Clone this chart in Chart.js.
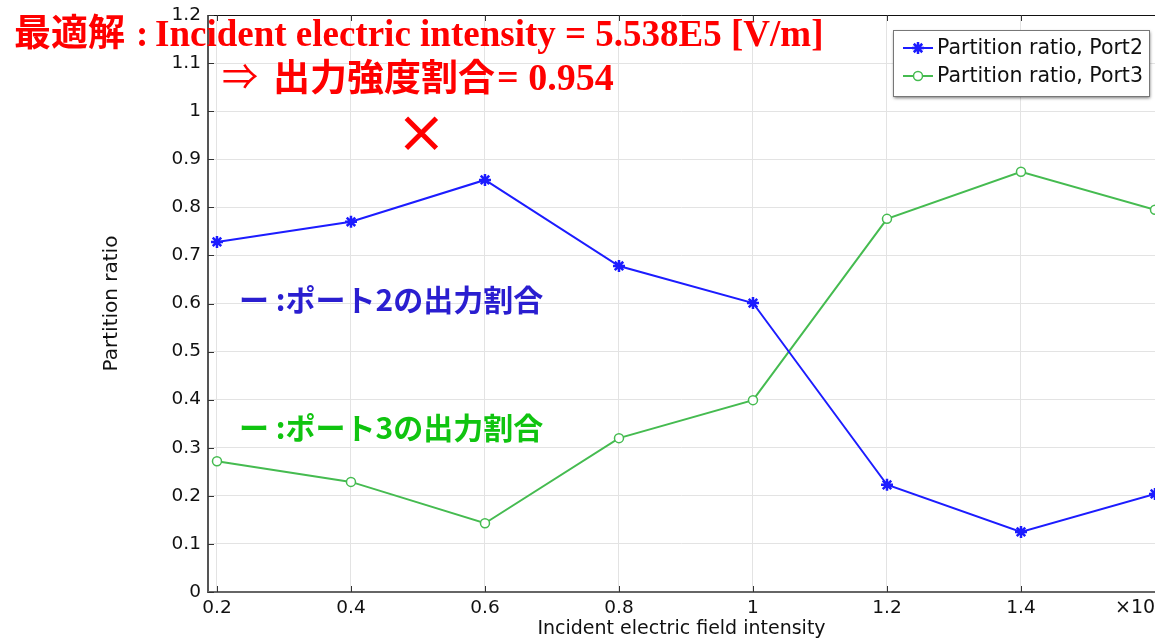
<!DOCTYPE html>
<html>
<head>
<meta charset="utf-8">
<script src="https://cdn.jsdelivr.net/npm/chart.js@4.4.1/dist/chart.umd.min.js"></script>
<style>
  html, body { margin: 0; padding: 0; background: #fff; overflow: hidden; }
  #wrap { width: 1155px; height: 640px; position: relative; }
</style>
</head>
<body>
<div id="wrap"><canvas id="c" width="1155" height="640"></canvas></div>
<script>
// Incident electric field intensity (axis units) and port partition ratios
const fieldIntensity = [0.2, 0.4, 0.6, 0.8, 1.0, 1.2, 1.4, 1.6];
const port2Ratio = [0.728, 0.770, 0.857, 0.678, 0.601, 0.223, 0.125, 0.204];
const port3Ratio = [0.272, 0.229, 0.143, 0.320, 0.399, 0.776, 0.874, 0.795];
const seriesNames = ['Partition ratio, Port2', 'Partition ratio, Port3'];

const xTickValues = [0.2, 0.4, 0.6, 0.8, 1.0, 1.2, 1.4];
const xTickLabels = ['0.2', '0.4', '0.6', '0.8', '1', '1.2', '1.4'];
const yTickValues = [0, 0.1, 0.2, 0.3, 0.4, 0.5, 0.6, 0.7, 0.8, 0.9, 1.0, 1.1, 1.2];
const yTickLabels = ['0', '0.1', '0.2', '0.3', '0.4', '0.5', '0.6', '0.7', '0.8', '0.9', '1', '1.1', '1.2'];

// Optimum: best output ratio and where it is marked
const optimumField = 0.505;
const optimumRatio = 0.954;

const BLUE = '#1c1cff';
const GREEN = '#45bb50';
const AXIS_FONT = "'DejaVu Sans', sans-serif";

const frame = {
  id: 'frame',
  beforeDatasetsDraw(chart) {
    const { ctx, chartArea: a, scales: { x, y } } = chart;
    ctx.save();
    // plot border
    ctx.strokeStyle = '#111';
    ctx.lineWidth = 1;
    ctx.beginPath(); ctx.moveTo(a.left, a.top + 0.5); ctx.lineTo(a.right, a.top + 0.5); ctx.stroke();
    ctx.strokeStyle = '#555';
    ctx.lineWidth = 2;
    ctx.beginPath(); ctx.moveTo(a.left, a.top); ctx.lineTo(a.left, a.bottom + 1); ctx.stroke();
    ctx.strokeStyle = '#666';
    ctx.beginPath(); ctx.moveTo(a.left, a.bottom); ctx.lineTo(a.right, a.bottom); ctx.stroke();
    // inward tick marks
    ctx.strokeStyle = '#333';
    ctx.lineWidth = 1;
    xTickValues.forEach(v => {
      const px = Math.round(x.getPixelForValue(v)) + 0.5;
      ctx.beginPath(); ctx.moveTo(px, a.bottom); ctx.lineTo(px, a.bottom - 6); ctx.stroke();
      ctx.beginPath(); ctx.moveTo(px, a.top); ctx.lineTo(px, a.top + 6); ctx.stroke();
    });
    yTickValues.forEach(v => {
      const py = Math.round(y.getPixelForValue(v)) + 0.5;
      ctx.beginPath(); ctx.moveTo(a.left, py); ctx.lineTo(a.left + 6, py); ctx.stroke();
    });
    ctx.restore();
  },
  afterDraw(chart) {
    const { ctx, scales: { x, y } } = chart;
    ctx.save();

    // axis multiplier
    ctx.fillStyle = '#111';
    ctx.font = "19px " + AXIS_FONT;
    ctx.textBaseline = 'middle';
    ctx.textAlign = 'left';
    ctx.fillText('×10', 1115, 608);

    // legend
    const lx = 893, ly = 30, lw = 256, lh = 66;
    ctx.save();
    ctx.shadowColor = 'rgba(0,0,0,0.55)';
    ctx.shadowBlur = 3;
    ctx.shadowOffsetX = 1;
    ctx.shadowOffsetY = 2;
    ctx.fillStyle = '#fff';
    ctx.fillRect(lx, ly, lw, lh);
    ctx.restore();
    ctx.strokeStyle = '#777';
    ctx.lineWidth = 1;
    ctx.strokeRect(lx + 0.5, ly + 0.5, lw, lh);
    chart.data.datasets.forEach((ds, i) => {
      const cy = ly + 18 + i * 28;
      ctx.strokeStyle = ds.borderColor;
      ctx.lineWidth = 2;
      ctx.beginPath(); ctx.moveTo(lx + 10, cy); ctx.lineTo(lx + 40, cy); ctx.stroke();
      ctx.fillStyle = ds.pointBackgroundColor || ds.borderColor;
      ctx.lineWidth = ds.pointBorderWidth;
      Chart.helpers.drawPoint(ctx, { pointStyle: ds.pointStyle, radius: ds.pointRadius, rotation: 0, borderWidth: ds.pointBorderWidth }, lx + 25, cy);
      ctx.fillStyle = '#111';
      ctx.font = "20.5px " + AXIS_FONT;
      ctx.textBaseline = 'middle';
      ctx.fillText(ds.label, lx + 44, cy + 1);
    });

    // optimum marker
    const ox = x.getPixelForValue(optimumField);
    const oy = y.getPixelForValue(optimumRatio);
    ctx.strokeStyle = '#ff0000';
    ctx.lineWidth = 5;
    ctx.beginPath();
    ctx.moveTo(ox - 15, oy - 15); ctx.lineTo(ox + 15, oy + 15);
    ctx.moveTo(ox + 15, oy - 15); ctx.lineTo(ox - 15, oy + 15);
    ctx.stroke();

    // headline
    ctx.fillStyle = '#ff0000';
    ctx.textBaseline = 'alphabetic';
    ctx.font = "bold 37px 'Noto Sans CJK JP', sans-serif";
    ctx.fillText('最適解', 14, 46);
    ctx.font = "bold 37px 'Liberation Serif', serif";
    ctx.fillText(':', 136, 46);
    ctx.fillText('Incident electric intensity = 5.538E5 [V/m]', 155, 46);
    ctx.font = "36px 'Noto Sans CJK JP', sans-serif";
    ctx.fillText('⇒', 222, 90);
    ctx.font = "bold 37px 'Noto Sans CJK JP', sans-serif";
    ctx.fillText('出力強度割合', 273, 91);
    ctx.font = "bold 38px 'Liberation Serif', serif";
    ctx.fillText('= ' + optimumRatio.toFixed(3), 497, 90);

    // series notes
    ctx.font = "bold 30px 'Noto Sans CJK JP', sans-serif";
    ctx.textBaseline = 'middle';
    ctx.fillStyle = '#2a1ed0';
    ctx.fillText('ー :ポート2の出力割合', 239, 300);
    ctx.fillStyle = '#10c410';
    ctx.fillText('ー :ポート3の出力割合', 239, 428);

    ctx.restore();
  }
};

const toPoints = vals => fieldIntensity.map((f, i) => ({ x: f, y: vals[i] }));

new Chart(document.getElementById('c'), {
  type: 'line',
  data: {
    datasets: [
      {
        label: seriesNames[0],
        data: toPoints(port2Ratio),
        borderColor: BLUE,
        backgroundColor: BLUE,
        borderWidth: 2,
        pointStyle: 'star',
        pointRadius: 6,
        pointBorderWidth: 2.5,
        pointBorderColor: BLUE,
        tension: 0
      },
      {
        label: seriesNames[1],
        data: toPoints(port3Ratio),
        borderColor: GREEN,
        backgroundColor: GREEN,
        borderWidth: 2,
        pointStyle: 'circle',
        pointRadius: 4.5,
        pointBorderWidth: 1.5,
        pointBorderColor: GREEN,
        pointBackgroundColor: '#ffffff',
        tension: 0
      }
    ]
  },
  options: {
    responsive: false,
    animation: false,
    events: [],
    layout: { autoPadding: false, padding: { top: 15, right: 0, bottom: 0, left: 0 } },
    plugins: { legend: { display: false }, tooltip: { enabled: false } },
    scales: {
      x: {
        type: 'linear',
        min: 0.1866,
        max: 1.6,
        afterBuildTicks: s => { s.ticks = xTickValues.map(v => ({ value: v })); },
        afterFit: s => { s.height = 48; s.paddingLeft = 0; s.paddingRight = 0; },
        ticks: {
          callback: (v, i) => xTickLabels[i],
          color: '#111',
          font: { family: AXIS_FONT, size: 18.5 },
          padding: 5,
          maxRotation: 0,
          autoSkip: false
        },
        grid: { color: '#e3e3e3', lineWidth: 1, drawTicks: false },
        border: { display: false },
        title: {
          display: true,
          text: 'Incident electric field intensity',
          color: '#111',
          font: { family: AXIS_FONT, size: 19 },
          padding: { top: 0, bottom: 0 }
        }
      },
      y: {
        min: 0,
        max: 1.2,
        afterBuildTicks: s => { s.ticks = yTickValues.map(v => ({ value: v })); },
        afterFit: s => { s.width = 208; s.paddingTop = 0; s.paddingBottom = 0; },
        ticks: {
          callback: (v, i) => yTickLabels[i],
          color: '#111',
          font: { family: AXIS_FONT, size: 18.5 },
          padding: 7,
          autoSkip: false
        },
        grid: { color: '#e3e3e3', lineWidth: 1, drawTicks: false },
        border: { display: false },
        title: {
          display: true,
          text: 'Partition ratio',
          color: '#111',
          font: { family: AXIS_FONT, size: 20 },
          padding: { top: 100, bottom: 0 }
        }
      }
    }
  },
  plugins: [frame]
});
</script>
</body>
</html>
